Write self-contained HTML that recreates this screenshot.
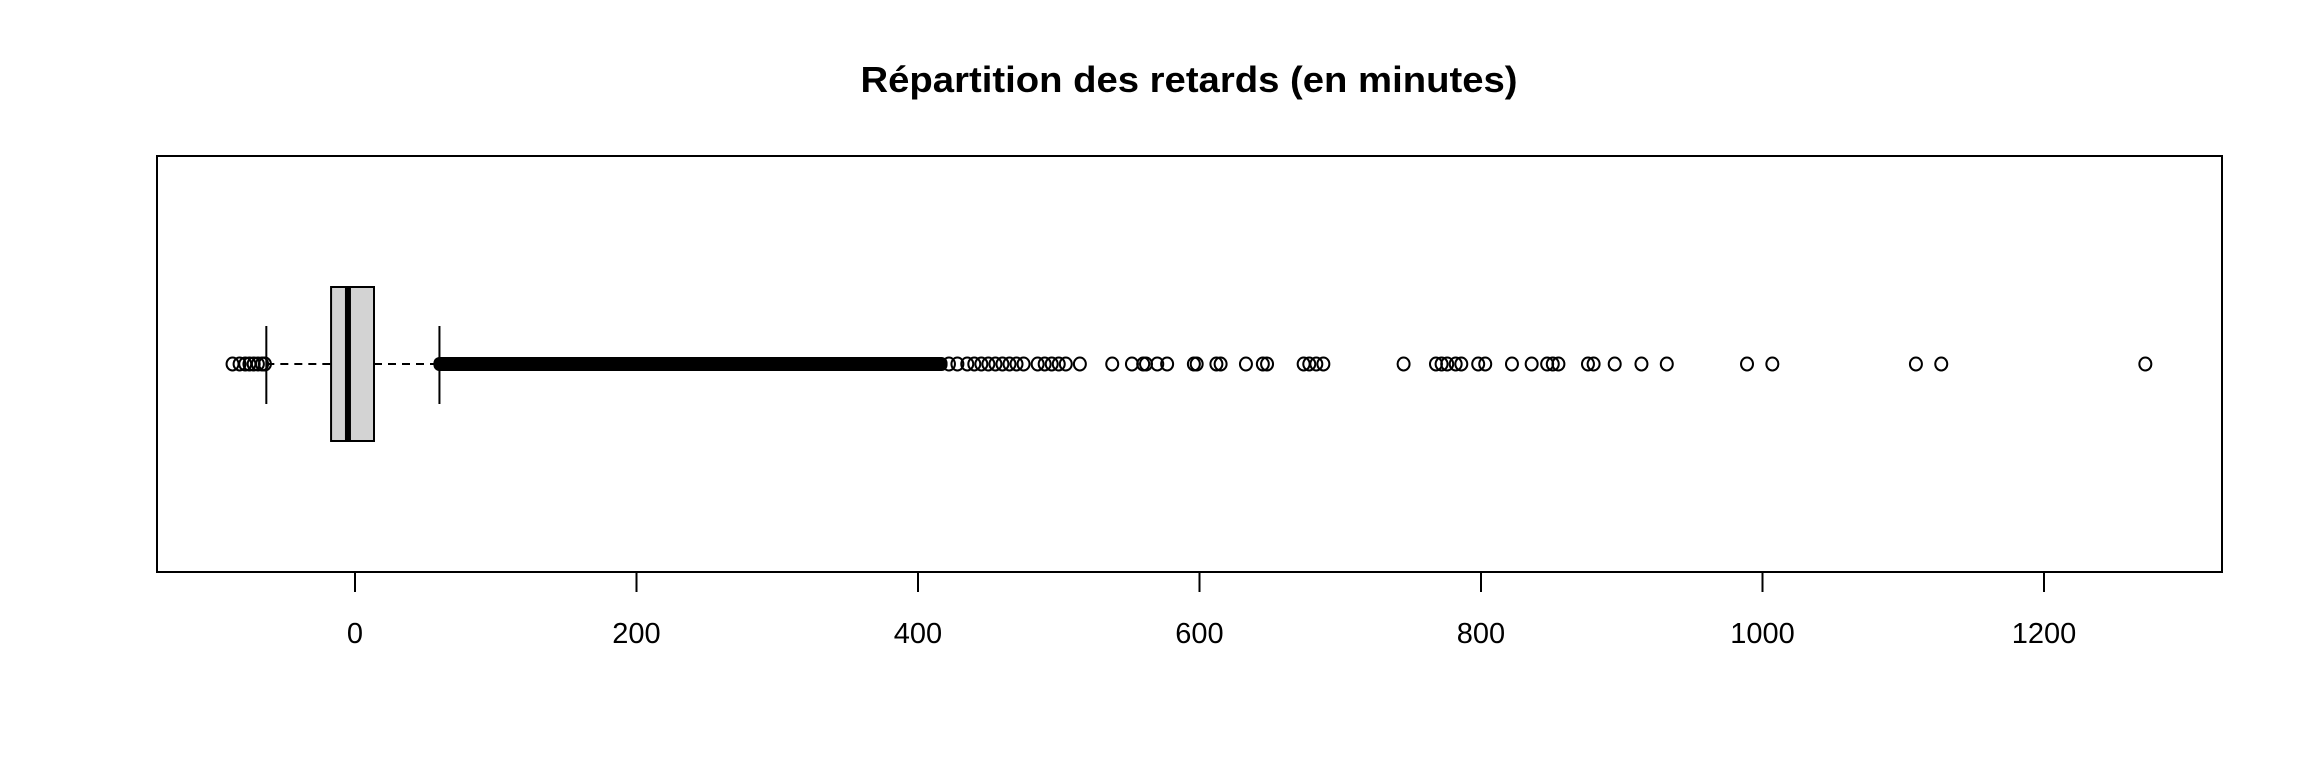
<!DOCTYPE html>
<html><head><meta charset="utf-8"><style>
html,body{margin:0;padding:0;background:#fff;}
svg{display:block;font-family:"Liberation Sans",Arial,sans-serif;}
</style></head><body>
<svg id="chart" width="2304" height="768" viewBox="0 0 2304 768" xmlns="http://www.w3.org/2000/svg">
<rect width="2304" height="768" fill="#fff"/>
<text x="1189" y="92" text-anchor="middle" font-size="36" font-weight="bold" textLength="657" lengthAdjust="spacingAndGlyphs">Répartition des retards (en minutes)</text>
<rect x="157" y="156" width="2065" height="416" fill="none" stroke="#000" stroke-width="2"/>
<g id="marks"></g>
<g id="axis"></g>
</svg>
<script>
const tickValues = [0, 200, 400, 600, 800, 1000, 1200];
const tickLabels = ["0", "200", "400", "600", "800", "1000", "1200"];
const q1 = -17, median = -5, q3 = 13.5;
const lowerWhisker = -63, upperWhisker = 60;
const denseBandEnd = 421;
const lowOutliers = [-87, -82, -78, -75, -72, -69, -66, -64];
const highOutliers = [422, 428, 435, 440, 445, 450, 455, 460, 465, 470, 475, 485, 490, 495, 500, 505, 515, 538, 552, 560, 562, 570, 577, 596, 598, 612, 615, 633, 645, 648, 674, 678, 683, 688, 745, 768, 772, 776, 782, 786, 798, 803, 822, 836, 847, 851, 855, 876, 880, 895, 914, 932, 989, 1007, 1109, 1127, 1272];

const NS = "http://www.w3.org/2000/svg";
const x = v => 355 + v * 1.4075;
const cy = 364;
function mk(tag, attrs, parent) {
  const e = document.createElementNS(NS, tag);
  for (const k in attrs) e.setAttribute(k, attrs[k]);
  parent.appendChild(e);
  return e;
}
const marks = document.getElementById('marks');
const axis = document.getElementById('axis');

let e;
e = mk('line', {x1: x(lowerWhisker), x2: x(q1), y1: cy, y2: cy, stroke: '#000', 'stroke-width': 2, 'stroke-dasharray': '8,6'}, marks);


e = mk('line', {x1: x(q3), x2: x(upperWhisker), y1: cy, y2: cy, stroke: '#000', 'stroke-width': 2, 'stroke-dasharray': '8,6'}, marks);


e = mk('line', {x1: x(lowerWhisker), x2: x(lowerWhisker), y1: 326, y2: 404, stroke: '#000', 'stroke-width': 2}, marks);


e = mk('line', {x1: x(upperWhisker), x2: x(upperWhisker), y1: 326, y2: 404, stroke: '#000', 'stroke-width': 2}, marks);


e = mk('rect', {x: x(q1), y: 287, width: x(q3) - x(q1), height: 154, fill: '#d3d3d3', stroke: '#000', 'stroke-width': 2}, marks);


e = mk('line', {x1: x(median), x2: x(median), y1: 287, y2: 441, stroke: '#000', 'stroke-width': 6}, marks);


e = mk('rect', {x: x(upperWhisker) - 6, y: cy - 7, width: x(denseBandEnd) - x(upperWhisker) + 6, height: 14, rx: 6, fill: '#000'}, marks);



lowOutliers.concat(highOutliers).forEach(v => {
  const c = mk('ellipse', {cx: x(v), cy: cy, rx: 6, ry: 6.5, fill: 'none', stroke: '#000', 'stroke-width': 2}, marks);
  
  
});

e = mk('line', {x1: x(tickValues[0]), x2: x(tickValues[tickValues.length - 1]), y1: 572, y2: 572, stroke: '#000', 'stroke-width': 2}, axis);


tickValues.forEach((v, i) => {
  const t = mk('line', {x1: x(v), x2: x(v), y1: 572, y2: 592, stroke: '#000', 'stroke-width': 2}, axis);
  
  
  const l = mk('text', {x: x(v), y: 643, 'text-anchor': 'middle', 'font-size': 29}, axis);
  
  
  l.textContent = tickLabels[i];
});
</script>
</body></html>
